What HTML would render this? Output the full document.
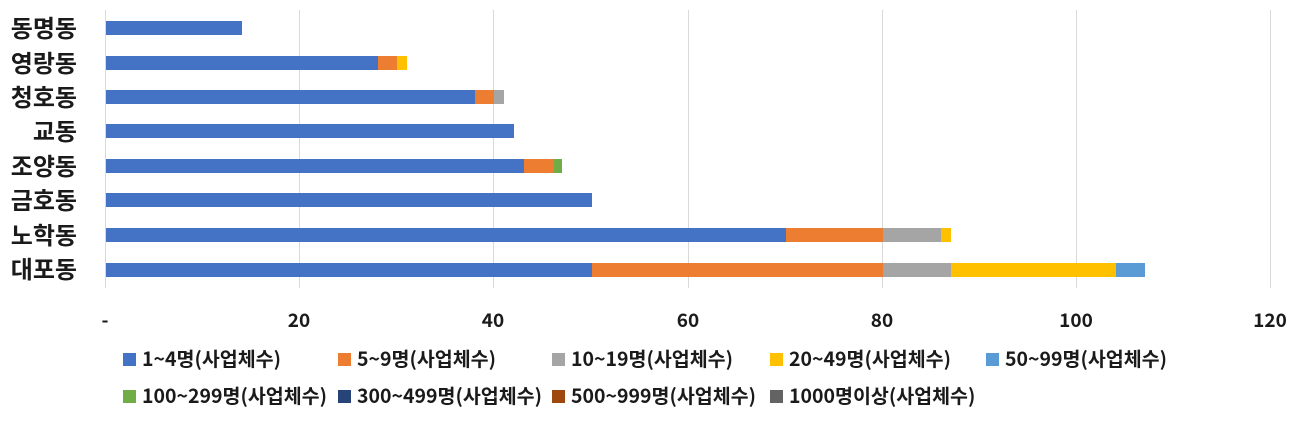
<!DOCTYPE html>
<html><head><meta charset="utf-8"><style>
body{margin:0;background:#fff}
text{font-family:"Noto Sans CJK KR","Noto Sans CJK JP",sans-serif;font-weight:bold;fill:#1a1a1a}
</style></head><body>
<svg width="1305" height="416" xmlns="http://www.w3.org/2000/svg">
<g stroke="#d9d9d9" stroke-width="1">
<line x1="105.5" y1="10" x2="105.5" y2="288"/>
<line x1="299.5" y1="10" x2="299.5" y2="288"/>
<line x1="493.5" y1="10" x2="493.5" y2="288"/>
<line x1="688.5" y1="10" x2="688.5" y2="288"/>
<line x1="882.5" y1="10" x2="882.5" y2="288"/>
<line x1="1076.5" y1="10" x2="1076.5" y2="288"/>
<line x1="1270.5" y1="10" x2="1270.5" y2="288"/>
</g>
<g>
<rect x="106" y="21" width="136" height="14" fill="#4472c4"/>

<rect x="106" y="56" width="272" height="14" fill="#4472c4"/>
<rect x="378" y="56" width="19" height="14" fill="#ed7d31"/>
<rect x="397" y="56" width="10" height="14" fill="#ffc000"/>

<rect x="106" y="90" width="369" height="14" fill="#4472c4"/>
<rect x="475" y="90" width="19" height="14" fill="#ed7d31"/>
<rect x="494" y="90" width="10" height="14" fill="#a5a5a5"/>

<rect x="106" y="124" width="408" height="14" fill="#4472c4"/>

<rect x="106" y="159" width="418" height="14" fill="#4472c4"/>
<rect x="524" y="159" width="30" height="14" fill="#ed7d31"/>
<rect x="554" y="159" width="8" height="14" fill="#70ad47"/>

<rect x="106" y="193" width="486" height="14" fill="#4472c4"/>

<rect x="106" y="228" width="680" height="14" fill="#4472c4"/>
<rect x="786" y="228" width="97" height="14" fill="#ed7d31"/>
<rect x="883" y="228" width="58" height="14" fill="#a5a5a5"/>
<rect x="941" y="228" width="10" height="14" fill="#ffc000"/>

<rect x="106" y="263" width="486" height="14" fill="#4472c4"/>
<rect x="592" y="263" width="291" height="14" fill="#ed7d31"/>
<rect x="883" y="263" width="68" height="14" fill="#a5a5a5"/>
<rect x="951" y="263" width="165" height="14" fill="#ffc000"/>
<rect x="1116" y="263" width="29" height="14" fill="#5b9bd5"/>
</g>
<g font-size="24" text-anchor="end">
<text x="77" y="37">동명동</text>
<text x="77" y="72">영랑동</text>
<text x="77" y="106">청호동</text>
<text x="77" y="140">교동</text>
<text x="77" y="175">조양동</text>
<text x="77" y="209">금호동</text>
<text x="77" y="244">노학동</text>
<text x="77" y="278">대포동</text>
</g>
<g font-size="19" text-anchor="middle">
<text x="105" y="327">-</text>
<text x="299" y="327">20</text>
<text x="493" y="327">40</text>
<text x="688" y="327">60</text>
<text x="882" y="327">80</text>
<text x="1076" y="327">100</text>
<text x="1270" y="327">120</text>
</g>
<g font-size="19.5">
<rect x="123" y="353" width="13" height="13" fill="#4472c4"/><text x="142" y="366">1~4명(사업체수)</text>
<rect x="338" y="353" width="13" height="13" fill="#ed7d31"/><text x="357" y="366">5~9명(사업체수)</text>
<rect x="552" y="353" width="13" height="13" fill="#a5a5a5"/><text x="571" y="366">10~19명(사업체수)</text>
<rect x="770" y="353" width="13" height="13" fill="#ffc000"/><text x="789" y="366">20~49명(사업체수)</text>
<rect x="986" y="353" width="13" height="13" fill="#5b9bd5"/><text x="1005" y="366">50~99명(사업체수)</text>
<rect x="123" y="390" width="13" height="13" fill="#70ad47"/><text x="142" y="403">100~299명(사업체수)</text>
<rect x="338" y="390" width="13" height="13" fill="#264478"/><text x="357" y="403">300~499명(사업체수)</text>
<rect x="552" y="390" width="13" height="13" fill="#9e480e"/><text x="571" y="403">500~999명(사업체수)</text>
<rect x="770" y="390" width="13" height="13" fill="#636363"/><text x="789" y="403">1000명이상(사업체수)</text>
</g>
</svg>
</body></html>
